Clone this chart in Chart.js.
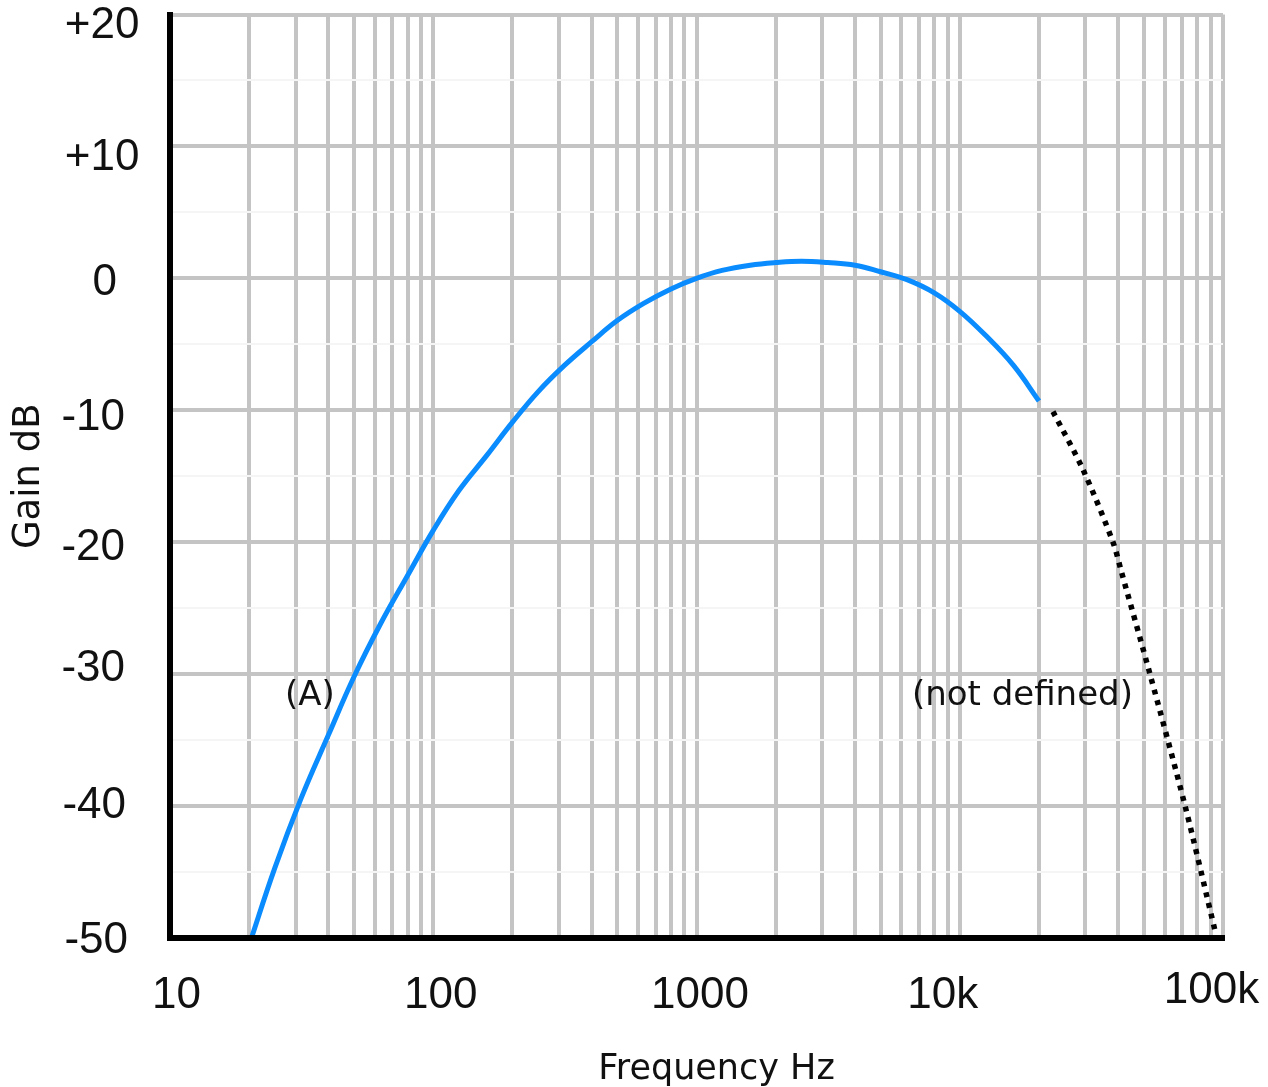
<!DOCTYPE html>
<html>
<head>
<meta charset="utf-8">
<title>Gain dB vs Frequency Hz</title>
<script src="https://cdn.jsdelivr.net/npm/chart.js@4.4.1/dist/chart.umd.min.js"></script>
<style>
  html, body { margin: 0; padding: 0; background: #ffffff; }
  canvas { display: block; }
</style>
</head>
<body>
<canvas id="chart" width="1268" height="1087"></canvas>
<script>
// Weighting curve (A), 20 Hz – 20 kHz
const freqA = [20, 25, 31.5, 40, 50, 63, 80, 100, 125, 160, 200, 250, 315, 400, 500, 630, 800,
               1000, 1250, 1600, 2000, 2500, 3150, 4000, 5000, 6300, 8000, 10000, 12500, 16000, 20000];
const gainA = [-50.5, -44.7, -39.4, -34.6, -30.2, -26.2, -22.5, -19.1, -16.1, -13.4, -10.9, -8.6, -6.6, -4.8, -3.2, -1.9, -0.8,
               0, 0.6, 1.0, 1.2, 1.3, 1.2, 1.0, 0.5, -0.1, -1.1, -2.5, -4.3, -6.6, -9.3];

// Continuation above 20 kHz, where the curve is not defined
const freqUndefined = [22600, 29400, 38200, 41200, 52800, 71800, 93400];
const gainUndefined = [-10.1, -14.5, -20.0, -22.3, -30.0, -40.0, -49.5];

// Axis ticks
const decadeValues = [10, 100, 1000, 10000, 100000];
const decadeLabels = ['10', '100', '1000', '10k', '100k'];
const gainTickValues = [-50, -40, -30, -20, -10, 0, 10, 20];
const gainTickLabels = ['-50', '-40', '-30', '-20', '-10', '0', '+10', '+20'];

// In-plot notes
const noteTexts = ['(A)', '(not defined)'];
const noteFreqs = [34, 17300];
const noteGains = [-31.65, -31.65];

const xAxisTitle = 'Frequency Hz';
const yAxisTitle = 'Gain dB';

// Log grid: 1..9 within every decade, closing at 100k
const gridFreqs = [];
for (let d = 10; d < 100000; d *= 10) {
  for (let m = 1; m <= 9; m++) gridFreqs.push(d * m);
}
gridFreqs.push(100000);

const BLUE = '#0a8cff';
const INK = '#111111';
const GRID = '#c4c4c4';
const GRID_FAINT = '#f5f5f5';
const TICK_FONT = { family: '"Liberation Sans", Arial, sans-serif', size: 44 };
const TEXT_FAMILY = '"DejaVu Sans", Verdana, sans-serif';

// Small per-label shifts of the tick texts
const labelShift = {
  x: { '10': [6.5, 0], '100': [7.5, 0], '1000': [3.5, 0], '10k': [-17, 0], '100k': [-11.5, -5] },
  y: { '+20': [2.5, 11], '+10': [2.5, 11.7], '0': [5, 4.8], '-10': [-6.5, 7.9], '-20': [-6.5, 6],
       '-30': [-6.5, -4.9], '-40': [-5.5, -0.3], '-50': [-3.5, 2.8] }
};

const shiftTickLabels = {
  id: 'shiftTickLabels',
  beforeDraw(chart) {
    for (const id of ['x', 'y']) {
      const scale = chart.scales[id];
      const items = scale.getLabelItems(chart.chartArea);
      if (!items || items._shifted) continue;
      items._shifted = true;
      for (const item of items) {
        const s = labelShift[id][item.label];
        if (s) {
          item.options.translation[0] += s[0];
          item.options.translation[1] += s[1];
        }
      }
    }
  }
};

const notesAndTitle = {
  id: 'notesAndTitle',
  afterDraw(chart) {
    const { ctx, scales: { x, y } } = chart;
    ctx.save();
    ctx.fillStyle = INK;
    ctx.textAlign = 'center';
    ctx.textBaseline = 'middle';
    ctx.font = '34px ' + TEXT_FAMILY;
    noteTexts.forEach((t, i) => {
      ctx.fillText(t, x.getPixelForValue(noteFreqs[i]), y.getPixelForValue(noteGains[i]));
    });
    // horizontal axis caption
    ctx.font = '35px ' + TEXT_FAMILY;
    const area = chart.chartArea;
    ctx.fillText(xAxisTitle, (area.left + area.right) / 2 + 20, chart.height - 17);
    ctx.restore();
  }
};

const toPoints = (xs, ys) => xs.map((f, i) => ({ x: f, y: ys[i] }));

new Chart(document.getElementById('chart'), {
  type: 'line',
  data: {
    datasets: [
      {
        label: 'A',
        data: toPoints(freqA, gainA),
        borderColor: BLUE,
        borderWidth: 5,
        pointRadius: 0,
        tension: 0.4,
        fill: false,
        clip: 0
      },
      {
        label: 'not defined',
        data: toPoints(freqUndefined, gainUndefined),
        borderColor: '#000000',
        borderWidth: 5.5,
        borderDash: [5, 6],
        pointRadius: 0,
        tension: 0.3,
        fill: false,
        clip: 0
      }
    ]
  },
  options: {
    responsive: false,
    animation: false,
    devicePixelRatio: 1,
    layout: { padding: { top: 14.5, right: 45, bottom: 0, left: 0 } },
    plugins: {
      legend: { display: false },
      tooltip: { enabled: false }
    },
    scales: {
      x: {
        type: 'logarithmic',
        min: 10,
        max: 100000,
        afterBuildTicks(scale) {
          scale.ticks = gridFreqs.map(v => ({ value: v }));
        },
        ticks: {
          autoSkip: false,
          maxRotation: 0,
          minRotation: 0,
          padding: 31,
          color: INK,
          font: TICK_FONT,
          callback(value) {
            const i = decadeValues.indexOf(value);
            return i >= 0 ? decadeLabels[i] : '';
          }
        },
        grid: { color: GRID, lineWidth: 4, drawTicks: false },
        border: { display: true, color: '#000000', width: 6, z: 1 },
        afterFit(scale) {
          scale.height = 149;
          scale.paddingLeft = 0;
          scale.paddingRight = 0;
        }
      },
      y: {
        type: 'linear',
        min: -50,
        max: 20,
        ticks: {
          stepSize: 5,
          autoSkip: false,
          crossAlign: 'center',
          padding: 33,
          color: INK,
          font: TICK_FONT,
          callback(value) {
            const i = gainTickValues.indexOf(value);
            return i >= 0 ? gainTickLabels[i] : '';
          }
        },
        grid: {
          drawTicks: false,
          color: c => (c.tick && c.tick.value % 10 === 0) ? GRID : GRID_FAINT,
          lineWidth: c => (c.tick && c.tick.value % 10 === 0) ? 4 : 2
        },
        border: { display: true, color: '#000000', width: 6, z: 1 },
        title: {
          display: true,
          text: yAxisTitle,
          color: INK,
          font: { family: TEXT_FAMILY, size: 37 },
          padding: { top: 7, bottom: 0 }
        },
        afterFit(scale) {
          scale.width = 170;
          scale.paddingTop = 0;
          scale.paddingBottom = 0;
        }
      }
    }
  },
  plugins: [shiftTickLabels, notesAndTitle]
});
</script>
</body>
</html>
